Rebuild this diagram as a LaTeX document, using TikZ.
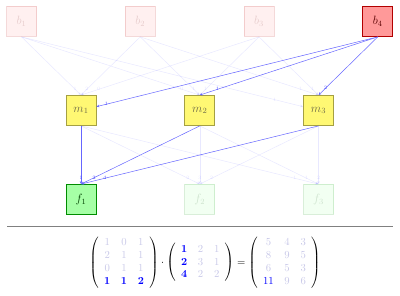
\documentclass[tikz,border=0pt]{standalone}
\usepackage{amsmath}
\usetikzlibrary{calc,arrows.meta}
\definecolor{fadenum}{RGB}{200,200,232}
\tikzset{
  box/.style={draw, line width=0.8pt, minimum size=30pt, inner sep=0pt, font=\large},
  bbox/.style={box, fill=red!40, draw=red!70!black, text=red!35!black},
  mbox/.style={box, fill=yellow!55, draw=yellow!60!black, text=yellow!35!black},
  fbox/.style={box, fill=green!35, draw=green!55!black, text=green!25!black},
  faded/.style={opacity=0.15},
  conn/.style={draw=blue!60, line width=0.5pt, -{Stealth[length=3pt,width=2.5pt]}},
  fconn/.style={conn, opacity=0.15},
  wl/.style={font=\tiny, text=blue!70, inner sep=0.5pt},
}
\begin{document}
\begin{tikzpicture}[x=1pt,y=-1pt]
\useasboundingbox (0,0) rectangle (400,296);
% nodes
\node[bbox,faded] (b1) at (21.5,21.5) {$b_1$};
\node[bbox,faded] (b2) at (140.25,21.5) {$b_2$};
\node[bbox,faded] (b3) at (259,21.5) {$b_3$};
\node[bbox] (b4) at (377.75,21.5) {$b_4$};
\node[mbox] (m1) at (81,110.5) {$m_1$};
\node[mbox] (m2) at (199.75,110.5) {$m_2$};
\node[mbox] (m3) at (318.5,110.5) {$m_3$};
\node[fbox] (f1) at (81,199.5) {$f_1$};
\node[fbox,faded] (f2) at (199.75,199.5) {$f_2$};
\node[fbox,faded] (f3) at (318.5,199.5) {$f_3$};
% faded b -> m
\draw[fconn] (b1.south) -- node[wl,pos=0.9]{1} (m1.north);
\draw[fconn] (b1.south) -- node[wl,pos=0.9]{0} (m2.north);
\draw[fconn] (b1.south) -- node[wl,pos=0.9]{1} (m3);
\draw[fconn] (b2.south) -- node[wl,pos=0.9]{2} (m1.north);
\draw[fconn] (b2.south) -- node[wl,pos=0.9]{1} (m2.north);
\draw[fconn] (b2.south) -- node[wl,pos=0.9]{1} (m3.north);
\draw[fconn] (b3.south) -- node[wl,pos=0.9]{0} (m1.north);
\draw[fconn] (b3.south) -- node[wl,pos=0.9]{1} (m2.north);
\draw[fconn] (b3.south) -- node[wl,pos=0.9]{1} (m3.north);
% highlighted b4 -> m
\draw[conn] (b4.south) -- node[wl,pos=0.965]{1} (m1);
\draw[conn] (b4.south) -- node[wl,pos=0.9]{1} (m2.north);
\draw[conn] (b4.south) -- node[wl,pos=0.88]{2} (m3.north);
% faded m -> f
\draw[fconn] (m1.south) -- node[wl,pos=0.9]{2} (f2.north);
\draw[fconn] (m1.south) -- node[wl,pos=0.9]{1} (f3.north);
\draw[fconn] (m2.south) -- node[wl,pos=0.9]{3} (f2.north);
\draw[fconn] (m2.south) -- node[wl,pos=0.9]{1} (f3.north);
\draw[fconn] (m3.south) -- node[wl,pos=0.9]{2} (f2.north);
\draw[fconn] (m3.south) -- node[wl,pos=0.9]{2} (f3.north);
% highlighted m -> f1
\draw[conn] (m1.south) -- node[wl,pos=0.89]{1} (f1.north);
\draw[conn] (m2.south) -- node[wl,pos=0.89]{2} (f1.north);
\draw[conn] (m3.south) -- node[wl,pos=0.9]{4} (f1.north);
% separator
\coordinate (sepL) at (7,226);
\coordinate (sepR) at (393,226);
\draw[gray, line width=0.8pt] (sepL) -- (sepR);
% matrix equation
\node (eq) at (205,262.5) {\scalebox{1.07}{$
\left(\begin{array}{ccc}
\color{fadenum}1 & \color{fadenum}0 & \color{fadenum}1\\
\color{fadenum}2 & \color{fadenum}1 & \color{fadenum}1\\
\color{fadenum}0 & \color{fadenum}1 & \color{fadenum}1\\
\color{blue}\mathbf{1} & \color{blue}\mathbf{1} & \color{blue}\mathbf{2}
\end{array}\right)
\cdot
\left(\begin{array}{ccc}
\color{blue}\mathbf{1} & \color{fadenum}2 & \color{fadenum}1\\
\color{blue}\mathbf{2} & \color{fadenum}3 & \color{fadenum}1\\
\color{blue}\mathbf{4} & \color{fadenum}2 & \color{fadenum}2
\end{array}\right)
=
\left(\begin{array}{ccc}
\color{fadenum}5 & \color{fadenum}4 & \color{fadenum}3\\
\color{fadenum}8 & \color{fadenum}9 & \color{fadenum}5\\
\color{fadenum}6 & \color{fadenum}5 & \color{fadenum}3\\
\color{blue}11 & \color{fadenum}9 & \color{fadenum}6
\end{array}\right)
$}};
\end{tikzpicture}
\end{document}
